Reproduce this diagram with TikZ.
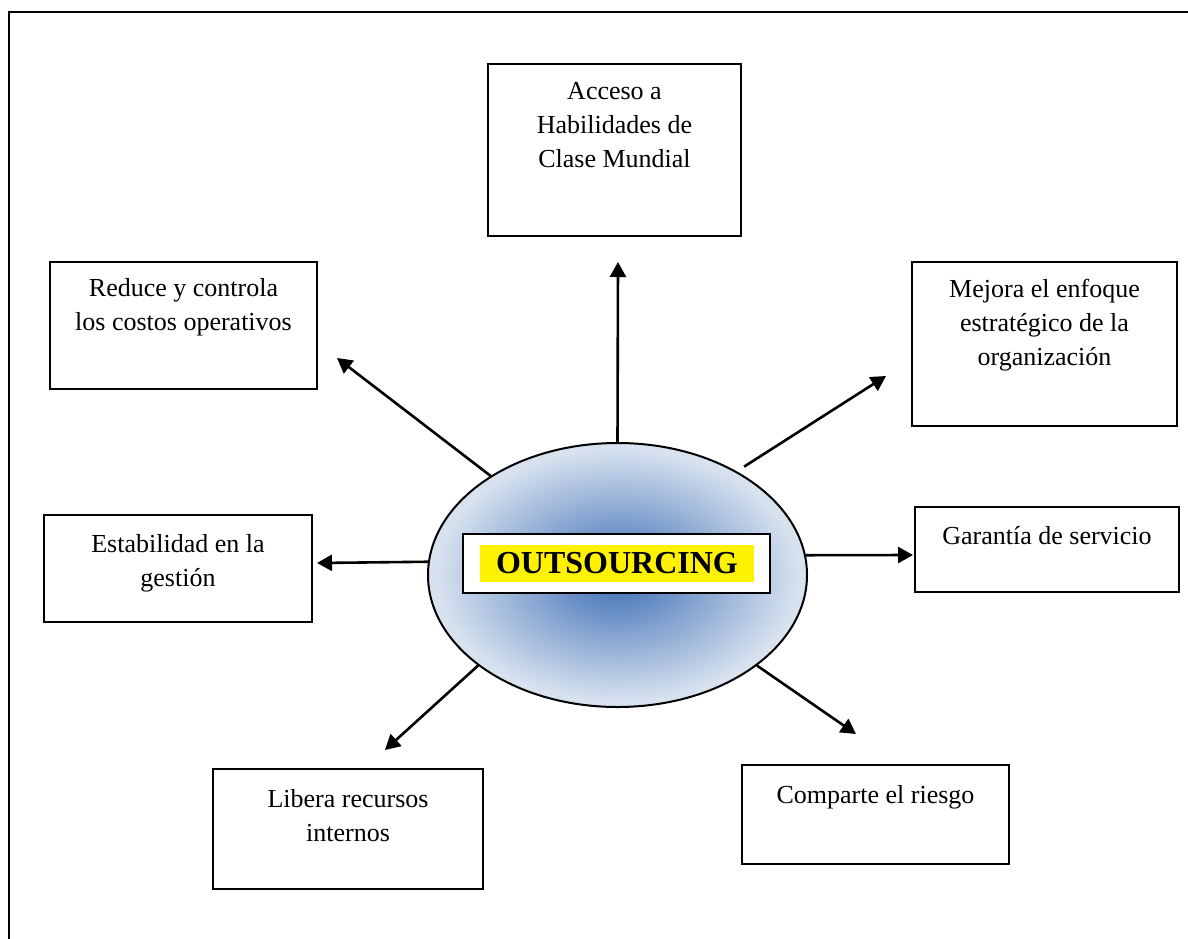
\documentclass[tikz,border=0pt]{standalone}
\usepackage{fontspec}
\setmainfont{Liberation Serif}
\usetikzlibrary{arrows.meta,shapes.geometric}
\definecolor{shIn}{HTML}{5580BE}
\definecolor{shOut}{HTML}{D8E2EF}
\pgfdeclareradialshading{ovalshade}{\pgfpoint{0bp}{0bp}}{color(0bp)=(shIn); color(4bp)=(shIn); color(24bp)=(shOut); color(50bp)=(shOut)}
\tikzset{
  boxst/.style={draw, line width=2pt, inner sep=0pt},
  txt/.style={align=center, inner sep=0pt, anchor=base, font=\fontsize{26}{34}\selectfont},
  arr/.style={line width=2.6pt, -{Triangle[length=15pt,width=16pt]}},
}
\begin{document}
\begin{tikzpicture}[x=1pt,y=-1pt]
\useasboundingbox (0,0) rectangle (1188,938);
\clip (0,0) rectangle (1188,938);
% outer frame
\draw[line width=2.6pt] (9,950) -- (9,12) -- (1200,12);

% central ellipse
\node[ellipse, draw, line width=2pt, shading=ovalshade, minimum width=379pt, minimum height=264pt, inner sep=0pt] (c) at (617.5,575) {};
\node[draw, fill=white, line width=2pt, minimum width=307pt, minimum height=59pt, inner sep=0pt] (ob) at (616.5,563.5) {};
\node[fill=yellow, minimum width=274pt, minimum height=37pt, inner sep=0pt, font=\fontsize{32}{36}\selectfont\bfseries] (oy) at (617,563.5) {OUTSOURCING};

% boxes
\node[boxst, minimum width=253pt, minimum height=172pt] (bAcc) at (614.5,150) {};
\node[boxst, minimum width=267pt, minimum height=127pt] (bRed) at (183.5,325.5) {};
\node[boxst, minimum width=265pt, minimum height=164pt] (bMej) at (1044.5,344) {};
\node[boxst, minimum width=268pt, minimum height=107pt] (bEst) at (178,568.5) {};
\node[boxst, minimum width=264pt, minimum height=85pt] (bGar) at (1047,549.5) {};
\node[boxst, minimum width=270pt, minimum height=120pt] (bLib) at (348,829) {};
\node[boxst, minimum width=267pt, minimum height=99pt] (bCom) at (875.5,814.5) {};

% texts (base anchor = baseline of the last line)
\node[txt] (tAcc) at (614.5,167) {Acceso a\\Habilidades de\\Clase Mundial};
\node[txt] (tRed) at (183.5,330) {Reduce y controla\\los costos operativos};
\node[txt] (tMej) at (1044.5,365) {Mejora el enfoque\\estratégico de la\\organización};
\node[txt] (tEst) at (178,586) {Estabilidad en la\\gestión};
\node[txt] (tGar) at (1047,544) {Garantía de servicio};
\node[txt] (tLib) at (348,841) {Libera recursos\\internos};
\node[txt] (tCom) at (875.5,803) {Comparte el riesgo};

% arrow tips
\coordinate (pUp) at (618,262);
\coordinate (pUL) at (337,358);
\coordinate (pUR) at (886,376);
\coordinate (pL) at (317,563);
\coordinate (pR) at (913,555);
\coordinate (pLL) at (385,750);
\coordinate (pLR) at (856,734);

\draw[arr] (c.90) -- (pUp);
\draw[arr] (c.142.45) -- (pUL);
\draw[arr, shorten <=8.7pt] (c.41.2) -- (pUR);
\draw[arr] (c.176.4) -- (pL);
\draw[arr] (c.6.1) -- (pR);
\draw[arr] (c.213.5) -- (pLL);
\draw[arr] (c.327.2) -- (pLR);
\end{tikzpicture}
\end{document}
